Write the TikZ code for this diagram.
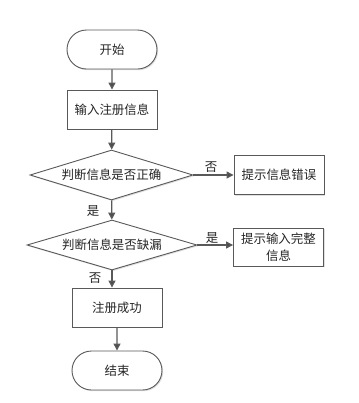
\documentclass[tikz,border=0pt]{standalone}
\usepackage{fontspec}
\newfontfamily\cjk{Noto Sans CJK SC}
\usetikzlibrary{arrows.meta,shapes.geometric,shapes.misc,shadows}
\begin{document}
\begin{tikzpicture}[x=1bp,y=-1bp,
  every node/.style={font=\cjk\fontsize{12.5}{17}\selectfont, text=black!85},
  base/.style={draw=black!65, line width=0.9bp, fill=white,
    drop shadow={shadow xshift=1.2bp, shadow yshift=-1.2bp, fill=black!12, opacity=1}},
  term/.style={base, rounded rectangle, minimum width=90bp, minimum height=39bp, inner sep=0pt},
  proc/.style={base, rectangle, minimum width=90bp, minimum height=39bp, inner sep=0pt, align=center},
  deci/.style={base, diamond, minimum width=163bp, minimum height=50bp, inner sep=0pt, aspect=3.26},
  arr/.style={draw=black!65, line width=1.3bp, -{Triangle[length=7bp,width=7bp,fill=black!70]}},
  lab/.style={inner sep=0pt}
]
\useasboundingbox (0,0) rectangle (359,403);
\node[term] (start) at (112,49.5) {开始};
\node[proc] (input) at (112,109.5) {输入注册信息};
\node[deci] (d1) at (111.5,175) {判断信息是否正确};
\node[proc] (err) at (279,175) {提示信息错误};
\node[deci, minimum width=170bp, aspect=3.4] (d2) at (112,245) {判断信息是否缺漏};
\node[proc, minimum height=38bp] (miss) at (278.5,247) {提示输入完整\\信息};
\node[proc] (succ) at (117,307.5) {注册成功};
\node[term] (end) at (117,370.5) {结束};

\draw[arr] (start) -- (input);
\draw[arr] (input) -- (d1);
\draw[arr] (d1.east) -- (err.west |- d1.east);
\draw[arr] (d1) -- (d2);
\draw[arr] (d2.east) -- (miss.west |- d2.east);
\draw[arr] (d2.south) -- (d2.south |- succ.north);
\draw[arr] (succ) -- (end);

\node[lab] (l1) at (211,167) {否};
\node[lab] (l2) at (93,211) {是};
\node[lab] (l3) at (212,238) {是};
\node[lab] (l4) at (95,278) {否};
\end{tikzpicture}
\end{document}
